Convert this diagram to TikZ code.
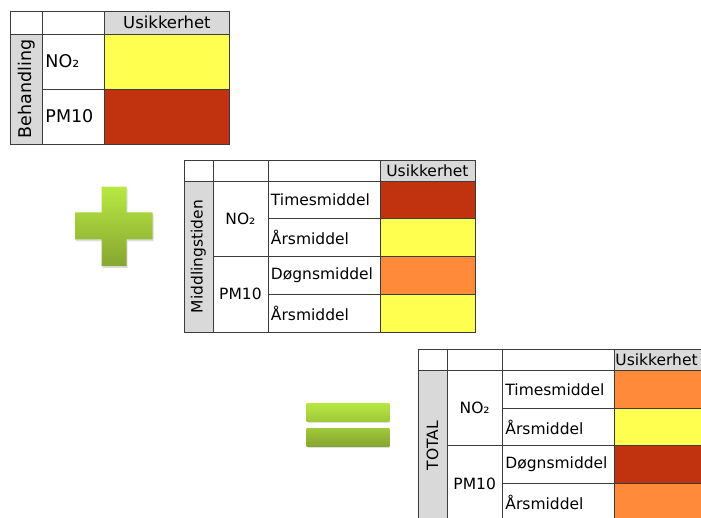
\documentclass[tikz,border=0pt]{standalone}
\usepackage{fontspec}
\setmainfont{DejaVu Sans}
\usepackage{tikz}
\usetikzlibrary{shadows}
\definecolor{cellyellow}{RGB}{255,255,80}
\definecolor{cellred}{RGB}{192,51,14}
\definecolor{cellorange}{RGB}{255,139,58}
\definecolor{headgray}{RGB}{217,217,217}
\definecolor{linegray}{RGB}{60,60,60}
\definecolor{greentop}{RGB}{184,232,66}
\definecolor{greenmid}{RGB}{160,200,58}
\definecolor{greenbot}{RGB}{134,166,50}

\begin{document}
\begin{tikzpicture}[x=1pt,y=-1pt]
  \tikzstyle{cell}=[rectangle,draw=linegray,line width=0.9pt,fill=white,inner sep=0pt,anchor=north west]
  \tikzstyle{head}=[cell,fill=headgray]
  \tikzstyle{lefttext}=[align=left,inner xsep=3pt]
  \tikzstyle{big}=[font=\fontsize{17.5}{20}\selectfont]
  \tikzstyle{small}=[font=\fontsize{15.5}{18}\selectfont]
  \tikzstyle{sign}=[draw=none,top color=greentop,bottom color=greenbot,
                    drop shadow={opacity=0.25,shadow xshift=1pt,shadow yshift=-2pt}]

  \clip (0,0) rectangle (701,517);

  % Behandling
  \begin{scope}[big]
  \node[cell,minimum width=32.5pt,minimum height=22.5pt] (b-c00) at (9.5,11) {};
  \node[cell,minimum width=62pt,minimum height=22.5pt] (b-c01) at (42,11) {};
  \node[head,font=\fontsize{16.5}{18}\selectfont,minimum width=125pt,minimum height=22.5pt] (b-hdr) at (104,11) {Usikkerhet};
  \node[head,minimum width=32.5pt,minimum height=110pt] (b-lab) at (9.5,33.5) {};
  \node[rotate=90] (b-labtxt) at (b-lab.center) {Behandling};
  \node[cell,lefttext,text width=56pt,minimum height=55pt] (b-no2) at (42,33.5) {NO₂};
  \node[cell,lefttext,text width=56pt,minimum height=55pt] (b-pm) at (42,88.5) {PM10};
  \node[cell,fill=cellyellow,minimum width=125pt,minimum height=55pt] (b-v1) at (104,33.5) {};
  \node[cell,fill=cellred,minimum width=125pt,minimum height=55pt] (b-v2) at (104,88.5) {};
  \end{scope}

  % plus
  \path[sign] (101.7,186.7) -- (126.7,186.7) -- (126.7,212.3) -- (152.7,212.3)
    -- (152.7,239.3) -- (126.7,239.3) -- (126.7,266) -- (101.7,266) -- (101.7,239.3)
    -- (75,239.3) -- (75,212.3) -- (101.7,212.3) -- cycle;

  % Middlingstiden
  \begin{scope}[small]
  \node[cell,minimum width=29pt,minimum height=21pt] (m-c00) at (183.5,159.5) {};
  \node[cell,minimum width=55pt,minimum height=21pt] (m-c01) at (212.5,159.5) {};
  \node[cell,minimum width=112pt,minimum height=21pt] (m-c02) at (267.5,159.5) {};
  \node[head,minimum width=95pt,minimum height=21pt] (m-hdr) at (379.5,159.5) {Usikkerhet};
  \node[head,minimum width=29pt,minimum height=151.2pt] (m-lab) at (183.5,180.5) {};
  \node[rotate=90] (m-labtxt) at (m-lab.center) {Middlingstiden};
  \node[cell,minimum width=55pt,minimum height=75.6pt] (m-no2) at (212.5,180.5) {NO₂};
  \node[cell,minimum width=55pt,minimum height=75.6pt] (m-pm) at (212.5,256.1) {PM10};
  \node[cell,lefttext,text width=106pt,minimum height=37.8pt] (m-r1) at (267.5,180.5) {Timesmiddel};
  \node[cell,lefttext,text width=106pt,minimum height=37.8pt] (m-r2) at (267.5,218.3) {Årsmiddel};
  \node[cell,lefttext,text width=106pt,minimum height=37.8pt] (m-r3) at (267.5,256.1) {Døgnsmiddel};
  \node[cell,lefttext,text width=106pt,minimum height=37.8pt] (m-r4) at (267.5,293.9) {Årsmiddel};
  \node[cell,fill=cellred,minimum width=95pt,minimum height=37.8pt] (m-v1) at (379.5,180.5) {};
  \node[cell,fill=cellyellow,minimum width=95pt,minimum height=37.8pt] (m-v2) at (379.5,218.3) {};
  \node[cell,fill=cellorange,minimum width=95pt,minimum height=37.8pt] (m-v3) at (379.5,256.1) {};
  \node[cell,fill=cellyellow,minimum width=95pt,minimum height=37.8pt] (m-v4) at (379.5,293.9) {};
  \end{scope}

  % equals
  \path[sign,bottom color=greenmid] (306.7,403.3) rectangle (389.3,421);
  \path[sign,top color=greenmid] (306.7,428.3) rectangle (389.3,446);

  % TOTAL
  \begin{scope}[small]
  \node[cell,minimum width=29pt,minimum height=21.5pt] (t-c00) at (417.5,348.5) {};
  \node[cell,minimum width=55.5pt,minimum height=21.5pt] (t-c01) at (446.5,348.5) {};
  \node[cell,minimum width=112pt,minimum height=21.5pt] (t-c02) at (502,348.5) {};
  \node[head,lefttext,inner xsep=1pt,text width=93pt,minimum height=21.5pt] (t-hdr) at (614,348.5) {Usikkerhet};
  \node[head,minimum width=29pt,minimum height=150.8pt] (t-lab) at (417.5,370) {};
  \node[rotate=90] (t-labtxt) at (t-lab.center) {TOTAL};
  \node[cell,minimum width=55.5pt,minimum height=75.4pt] (t-no2) at (446.5,370) {NO₂};
  \node[cell,minimum width=55.5pt,minimum height=75.4pt] (t-pm) at (446.5,445.4) {PM10};
  \node[cell,lefttext,text width=106pt,minimum height=37.7pt] (t-r1) at (502,370) {Timesmiddel};
  \node[cell,lefttext,text width=106pt,minimum height=37.7pt] (t-r2) at (502,407.7) {Årsmiddel};
  \node[cell,lefttext,text width=106pt,minimum height=37.7pt] (t-r3) at (502,445.4) {Døgnsmiddel};
  \node[cell,lefttext,text width=106pt,minimum height=37.7pt] (t-r4) at (502,483.1) {Årsmiddel};
  \node[cell,fill=cellorange,minimum width=95pt,minimum height=37.7pt] (t-v1) at (614,370) {};
  \node[cell,fill=cellyellow,minimum width=95pt,minimum height=37.7pt] (t-v2) at (614,407.7) {};
  \node[cell,fill=cellred,minimum width=95pt,minimum height=37.7pt] (t-v3) at (614,445.4) {};
  \node[cell,fill=cellorange,minimum width=95pt,minimum height=37.7pt] (t-v4) at (614,483.1) {};
  \end{scope}
\end{tikzpicture}
\end{document}
